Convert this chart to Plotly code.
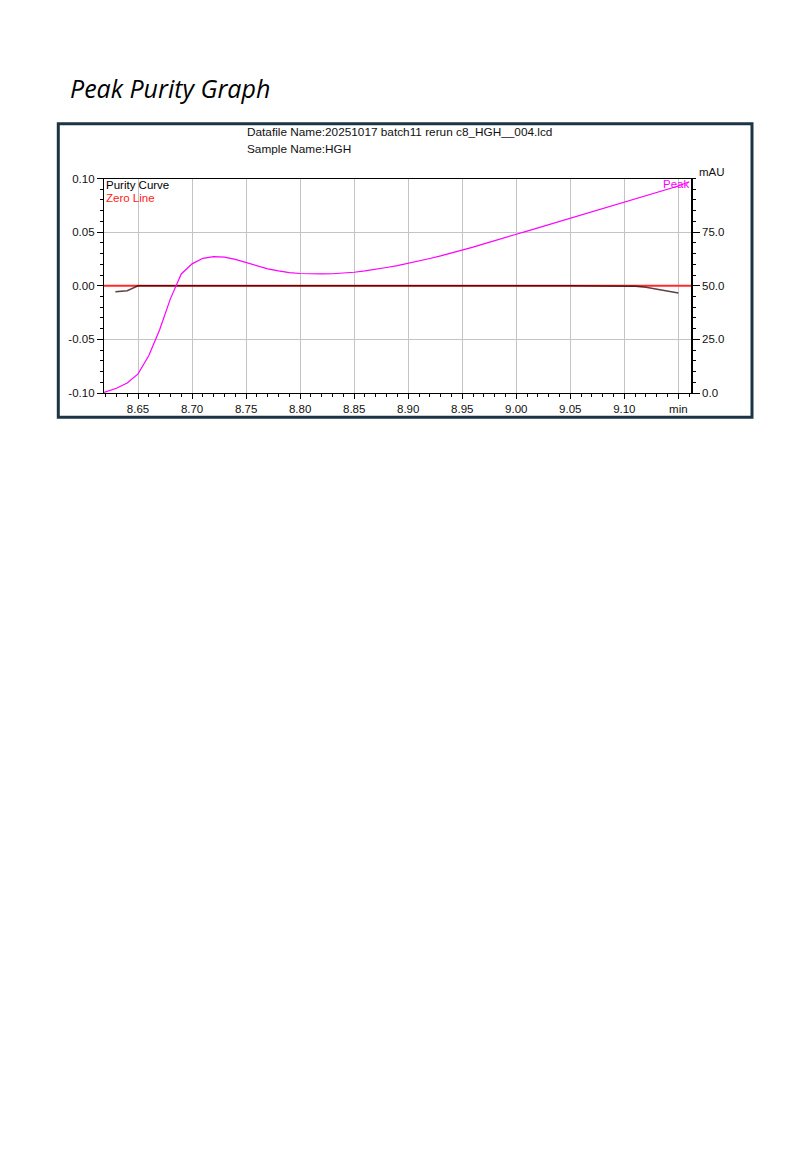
import numpy as np
import plotly.graph_objects as go

# ---------------- data ----------------
peak_time = [8.6185, 8.63, 8.64, 8.65, 8.66, 8.67, 8.68, 8.69, 8.70, 8.71, 8.72, 8.73,
             8.74, 8.75, 8.76, 8.77, 8.78, 8.79, 8.80, 8.81, 8.82, 8.83, 8.84, 8.85,
             8.86, 8.87, 8.88, 8.89, 8.90, 8.91, 8.92, 8.93, 8.94, 8.95, 8.96, 8.97,
             8.98, 8.99, 9.00, 9.01, 9.02, 9.03, 9.04, 9.05, 9.06, 9.07, 9.08, 9.09,
             9.10, 9.11, 9.12, 9.13, 9.14, 9.15, 9.16]
peak_mau = [0.3, 2.2, 4.7, 8.9, 17.5, 29.5, 44.0, 55.5, 60.2, 62.8, 63.6, 63.3,
            62.3, 60.8, 59.3, 57.9, 56.9, 56.1, 55.7, 55.5, 55.5, 55.6, 55.9, 56.3,
            56.9, 57.6, 58.5, 59.4, 60.4, 61.5, 62.7, 63.9, 65.2, 66.6, 68.0, 69.5,
            70.9, 72.4, 74.0, 75.5, 77.0, 78.4, 79.9, 81.3, 82.8, 84.3, 85.8, 87.3,
            88.9, 90.5, 92.0, 93.6, 95.0, 96.5, 98.5]

purity_time = [8.629, 8.64, 8.65, 8.70, 8.75, 8.80, 8.85, 8.90, 8.95, 9.00, 9.05,
               9.10, 9.11, 9.12, 9.13, 9.14, 9.15]
purity_val = [-0.0057, -0.0047, -0.0001, 0.0, 0.0, 0.0, 0.0, 0.0, 0.0, 0.0, 0.0,
              0.0, -0.0004, -0.0015, -0.0031, -0.0049, -0.0068]

zero_val = 0.0

x_tickvals = [8.65, 8.70, 8.75, 8.80, 8.85, 8.90, 8.95, 9.00, 9.05, 9.10, 9.15]
x_ticktext = ["8.65", "8.70", "8.75", "8.80", "8.85", "8.90", "8.95", "9.00", "9.05", "9.10", "min"]
y_tickvals = [-0.10, -0.05, 0.0, 0.05, 0.10]
y_ticktext = ["-0.10", "-0.05", "0.00", "0.05", "0.10"]
y2_tickvals = [0, 25, 50, 75, 100]
y2_ticktext = ["0.0", "25.0", "50.0", "75.0", ""]

x_range = [8.6185, 9.1617]
y_range = [-0.10, 0.10]
y2_range = [0, 100]

title_text = "Peak Purity Graph"
header1 = "Datafile Name:20251017 batch11 rerun c8_HGH__004.lcd"
header2 = "Sample Name:HGH"

# ---------------- layout helpers ----------------
W, H = 810, 1170
def px(x): return x / W
def py(y): return 1 - y / H

FONT = "Liberation Sans, Arial, sans-serif"

fig = go.Figure()
fig.add_trace(go.Scatter(x=x_range, y=[zero_val, zero_val], mode="lines",
                         line=dict(color="#ff2a2a", width=2),
                         yaxis="y", showlegend=False, hoverinfo="skip"))
fig.add_trace(go.Scatter(x=purity_time, y=purity_val, mode="lines",
                         line=dict(color="rgba(40,0,0,0.75)", width=1.5),
                         yaxis="y", showlegend=False, hoverinfo="skip"))
fig.add_trace(go.Scatter(x=peak_time, y=peak_mau, mode="lines",
                         line=dict(color="#ff00ff", width=1.2),
                         yaxis="y2", showlegend=False, hoverinfo="skip"))

minor_x = [round(v, 2) for v in np.arange(8.62, 9.165, 0.01)]
minor_y = [round(v, 3) for v in np.arange(-0.10, 0.1001, 0.01)]
minor_y2 = list(range(0, 101, 5))

TF = dict(size=11.5, family=FONT, color="#111")

fig.update_layout(
    template="none",
    width=W, height=H,
    margin=dict(l=0, r=0, t=0, b=0, autoexpand=False),
    paper_bgcolor="white", plot_bgcolor="white",
    font=dict(family=FONT, size=12, color="#111"),
    xaxis=dict(domain=[px(104), px(691)], range=x_range, automargin=False,
               tickmode="array", tickvals=x_tickvals, ticktext=x_ticktext,
               ticks="outside", ticklen=5, tickwidth=1, tickcolor="black",
               showgrid=True, gridcolor="#c4c4c4", gridwidth=1,
               showline=True, linecolor="black", linewidth=1.3, mirror=True,
               zeroline=False, anchor="y",
               minor=dict(tickmode="array", tickvals=minor_x, ticks="outside",
                          ticklen=3, tickcolor="black", showgrid=False),
               tickfont=TF),
    yaxis=dict(domain=[py(393), py(178.5)], range=y_range, automargin=False,
               tickmode="array", tickvals=y_tickvals, ticktext=y_ticktext,
               ticks="outside", ticklen=6, tickwidth=1, tickcolor="black",
               showgrid=True, gridcolor="#c4c4c4", gridwidth=1,
               showline=True, linecolor="black", linewidth=1.3, mirror=False,
               zeroline=False, anchor="x",
               minor=dict(tickmode="array", tickvals=minor_y, ticks="outside",
                          ticklen=3, tickcolor="black", showgrid=False),
               tickfont=TF),
    yaxis2=dict(overlaying="y", side="right", range=y2_range, anchor="x",
                automargin=False,
                tickmode="array", tickvals=y2_tickvals, ticktext=y2_ticktext,
                ticks="outside", ticklen=7, tickwidth=1, tickcolor="black",
                showgrid=False, showline=True, linecolor="black", linewidth=1.5,
                zeroline=False,
                minor=dict(tickmode="array", tickvals=minor_y2, ticks="outside",
                           ticklen=3, tickcolor="black", showgrid=False),
                tickfont=TF),
    shapes=[
        dict(type="rect", xref="paper", yref="paper",
             x0=px(58.3), x1=px(752), y0=py(417.3), y1=py(123.8),
             line=dict(color="#1c3545", width=3), fillcolor="rgba(0,0,0,0)"),
    ],
    annotations=[
        dict(text=title_text, xref="paper", yref="paper", x=px(68), y=py(88),
             xanchor="left", yanchor="middle", showarrow=False,
             font=dict(family="Open Sans, Inter, Liberation Sans, sans-serif",
                       size=25, color="black", style="italic")),
        dict(text=header1, xref="paper", yref="paper", x=px(245), y=py(132),
             xanchor="left", yanchor="middle", showarrow=False,
             font=dict(family=FONT, size=11.8, color="#111")),
        dict(text=header2, xref="paper", yref="paper", x=px(245), y=py(149),
             xanchor="left", yanchor="middle", showarrow=False,
             font=dict(family=FONT, size=11.8, color="#111")),
        dict(text="Purity Curve", xref="paper", yref="paper", x=px(104), y=py(184.5),
             xanchor="left", yanchor="middle", showarrow=False,
             font=dict(family=FONT, size=11.5, color="black")),
        dict(text="Zero Line", xref="paper", yref="paper", x=px(104), y=py(198),
             xanchor="left", yanchor="middle", showarrow=False,
             font=dict(family=FONT, size=11.5, color="#ff1a1a")),
        dict(text="Peak", xref="paper", yref="paper", x=px(691), y=py(184),
             xanchor="right", yanchor="middle", showarrow=False,
             font=dict(family=FONT, size=11.5, color="#ff00ff")),
        dict(text="mAU", xref="paper", yref="paper", x=px(697), y=py(171.5),
             xanchor="left", yanchor="middle", showarrow=False,
             font=dict(family=FONT, size=11.5, color="#111")),
    ],
)

fig.write_html("out.html")
